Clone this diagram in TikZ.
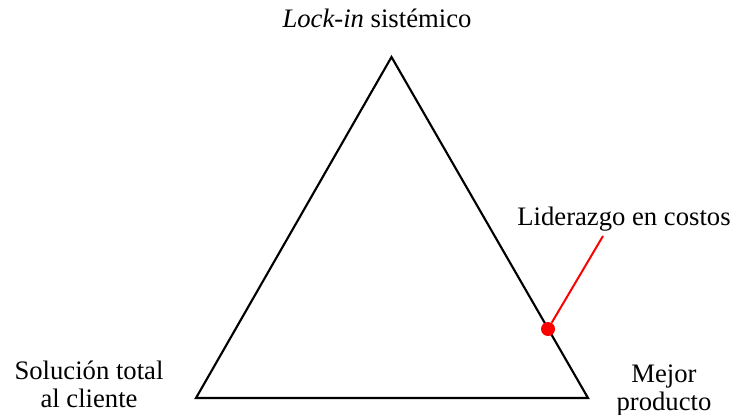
\documentclass[tikz,border=0pt]{standalone}
\usepackage{fontspec}
\setmainfont{Liberation Serif}
\usetikzlibrary{positioning}
\tikzset{
  edge/.style    = {line width=1.6pt, line join=miter},
  vlabel/.style  = {align=center, inner sep=0pt, font=\fontsize{20}{20.5}\selectfont},
  marker/.style  = {circle, fill=red, inner sep=0pt, minimum size=10.5pt},
  pointer/.style = {red, line width=1.5pt}
}
\begin{document}
\begin{tikzpicture}[x=0.75pt, y=-0.75pt]
  \useasboundingbox (0,0) rectangle (734,414);
  \coordinate (top)   at (391.5,57);
  \coordinate (left)  at (196,398);
  \coordinate (right) at (588,398);
  \draw[edge] (top) -- (left) -- (right) -- cycle;
  \node[vlabel, anchor=base] (lockin) at (377,27) {\textit{Lock-in} sistémico};
  % base anchor sits on the last line
  \node[vlabel, anchor=base] (cliente) at (89,407) {Solución total\\al cliente};
  \node[vlabel, anchor=base] (producto) at (664,410) {Mejor\\producto};
  \node[marker] (dot) at (548,329) {};
  \coordinate (tip) at (603,236);
  \draw[pointer] (dot) -- (tip);
  \node[vlabel, anchor=base] (costos) at (624,225) {Liderazgo en costos};
\end{tikzpicture}
\end{document}
